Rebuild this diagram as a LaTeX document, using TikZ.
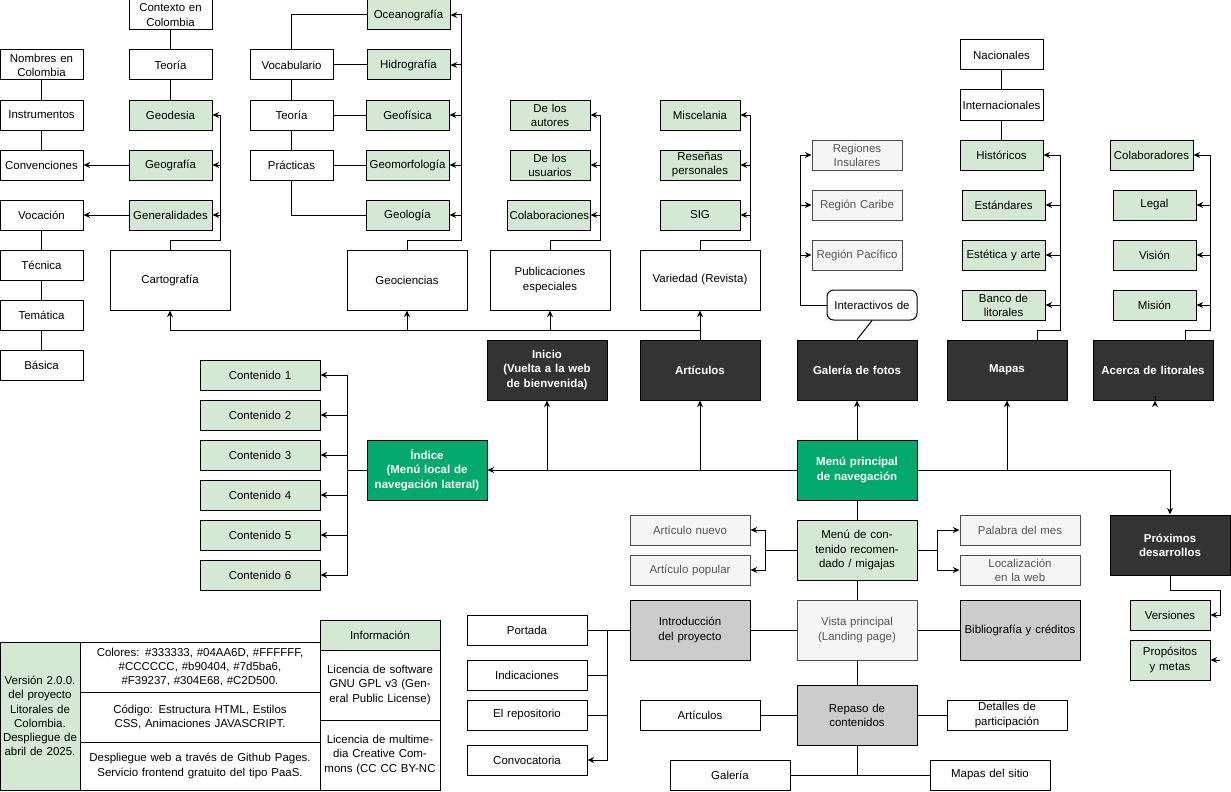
\documentclass[tikz,border=0pt]{standalone}
\usepackage{fontspec}
\setmainfont{Liberation Sans}
\usetikzlibrary{arrows.meta,calc,positioning}
\definecolor{darkbox}{HTML}{333333}
\definecolor{mainGreen}{HTML}{04AA6D}
\definecolor{softGreen}{HTML}{D5E8D4}
\definecolor{paleGray}{HTML}{F5F5F5}
\definecolor{midGray}{HTML}{CCCCCC}
\definecolor{textGray}{HTML}{555555}

% box: [style]{name}{left}{top}{width}{height}{text}, all in pixels
\newcommand\bx[7][]{%
  \pgfmathsetmacro\bw{#5*0.75}\pgfmathsetmacro\bh{#6*0.75}\pgfmathsetmacro\tw{(#5-5)*0.75}%
  \node[box,minimum width=\bw pt,minimum height=\bh pt,text width=\tw pt,#1] (#2) at ({#3+#5/2},{#4+#6/2}) {#7};}

\begin{document}
\begin{tikzpicture}[
  x=0.75pt, y=-0.75pt,
  >={Stealth[length=5pt,width=4.5pt]},
  line width=0.75pt,
  box/.style={draw,rectangle,fill=white,align=center,inner sep=1pt,font=\fontsize{8.6}{10.6}\selectfont},
  sub/.style={fill=softGreen},
  dark/.style={fill=darkbox,text=white,font=\fontsize{8.6}{10.6}\selectfont\bfseries},
  main/.style={fill=mainGreen,text=white,font=\fontsize{8.6}{10.6}\selectfont\bfseries},
  pale/.style={fill=paleGray,draw=black!70,text=textGray},
  mid/.style={fill=midGray}
]
\useasboundingbox (0,0) rectangle (1231,792);

% --- Cartografía branch
\bx{nombres}{0}{50}{83}{30}{Nombres en Colombia}
\bx{instr}{0}{100}{83}{30}{Instrumentos}
\bx{conv}{0}{150}{83}{30}{Convenciones}
\bx{vocacion}{0}{200}{83}{30}{Vocación}
\bx{tecnica}{0}{250}{83}{30}{Técnica}
\bx{tematica}{0}{300}{83}{30}{Temática}
\bx{basica}{0}{350}{83}{30}{Básica}
\bx{contexto}{129}{0}{83}{30}{Contexto en Colombia}
\bx{teoriaA}{129}{50}{83}{30}{Teoría}
\bx[sub]{geodesia}{129}{100}{83}{30}{Geodesia}
\bx[sub]{geografia}{129}{150}{83}{30}{Geografía}
\bx[sub]{general}{129}{200}{83}{30}{Generalidades}
\bx{carto}{110}{250}{120}{60}{Cartografía}

\draw (nombres) -- (instr) -- (conv);
\draw (vocacion) -- (tecnica) -- (tematica) -- (basica);
\draw (contexto) -- (teoriaA) -- (geodesia);
\draw[->] (geografia) -- (conv);
\draw[->] (general) -- (vocacion);
\coordinate (cartoBus) at (220,240);
\draw[->] (carto.north) |- (cartoBus) |- (geodesia.east);
\draw[->] (cartoBus |- geografia.east) -- (geografia.east);
\draw[->] (cartoBus |- general.east) -- (general.east);

% --- Geociencias branch
\bx{vocab}{250}{50}{83}{30}{Vocabulario}
\bx{teoriaB}{250}{100}{83}{30}{Teoría}
\bx{practicas}{250}{150}{83}{30}{Prácticas}
\bx[sub]{oceano}{367}{0}{83}{30}{Oceanografía}
\bx[sub]{hidro}{367}{50}{83}{30}{Hidrografía}
\bx[sub]{geofisica}{366}{100}{83}{30}{Geofísica}
\bx[sub]{geomorf}{366}{150}{83}{30}{Geomorfología}
\bx[sub]{geologia}{366}{200}{83}{30}{Geología}
\bx{geoc}{347}{250}{120}{60}{Geociencias}

\draw (oceano.west) -| (vocab.north);
\draw (vocab) -- (hidro);
\draw (vocab) -- (teoriaB) -- (practicas);
\draw (teoriaB) -- (geofisica);
\draw (practicas) -- (geomorf);
\draw (practicas.south) |- (geologia.west);
\coordinate (geocBus) at (461,240);
\draw[->] (geoc.north) |- (geocBus) |- (oceano.east);
\foreach \n in {hidro,geofisica,geomorf,geologia}
  \draw[->] (geocBus |- \n.east) -- (\n.east);

% --- Publicaciones and Variedad
\bx{public}{490}{250}{120}{60}{Publicaciones especiales}
\bx[sub]{autores}{510}{100}{80}{30}{De los autores}
\bx[sub]{usuarios}{510}{150}{80}{30}{De los usuarios}
\bx[sub]{colab}{507}{200}{83}{30}{Colaboraciones}
\coordinate (pubBus) at (600,240);
\draw[->] (public.north) |- (pubBus) |- (autores.east);
\draw[->] (pubBus |- usuarios.east) -- (usuarios.east);
\draw[->] (pubBus |- colab.east) -- (colab.east);

\bx{variedad}{640}{250}{120}{60}{Variedad (Revista)}
\bx[sub]{misc}{660}{100}{80}{30}{Miscelania}
\bx[sub]{resenas}{660}{150}{80}{30}{Reseñas personales}
\bx[sub]{sig}{660}{200}{80}{30}{SIG}
\coordinate (varBus) at (750,240);
\draw[->] (variedad.north) |- (varBus) |- (misc.east);
\draw[->] (varBus |- resenas.east) -- (resenas.east);
\draw[->] (varBus |- sig.east) -- (sig.east);

% --- Galería branch
\bx[pale]{insulares}{812}{140}{90}{30}{Regiones Insulares}
\bx[pale]{caribe}{812}{190}{90}{30}{Región Caribe}
\bx[pale]{pacifico}{812}{240}{90}{30}{Región Pacífico}
\bx[rounded corners=5pt]{interact}{827}{290}{90}{30}{Interactivos de}
\coordinate (galBus) at (800,305);
\draw[->] (interact.west) -- (galBus) |- (insulares.west);
\draw[->] (galBus |- caribe.west) -- (caribe.west);
\draw[->] (galBus |- pacifico.west) -- (pacifico.west);

% --- Mapas branch
\bx{nacionales}{960}{40}{83}{30}{Nacionales}
\bx{internac}{960}{90}{83}{30}{Internacionales}
\bx[sub]{historicos}{960}{140}{83}{30}{Históricos}
\bx[sub]{estandares}{962}{190}{83}{30}{Estándares}
\bx[sub]{estetica}{962}{240}{83}{30}{Estética y arte}
\bx[sub]{banco}{962}{290}{83}{30}{Banco de litorales}
\draw (nacionales) -- (internac) -- (historicos);

% --- Acerca branch
\bx[sub]{colabs}{1110}{140}{83}{30}{Colaboradores}
\bx[sub]{legal}{1113}{190}{83}{30}{Legal}
\bx[sub]{vision}{1113}{240}{83}{30}{Visión}
\bx[sub]{mision}{1113}{290}{83}{30}{Misión}

% --- Main menu bar
\bx[dark]{inicio}{487}{340}{120}{60}{Inicio\\(Vuelta a la web de bienvenida)}
\bx[dark]{articulos}{640}{340}{120}{60}{Artículos}
\bx[dark]{galeria}{797}{340}{120}{60}{Galería de fotos}
\bx[dark]{mapas}{947}{340}{120}{60}{Mapas}
\bx[dark]{acerca}{1093}{340}{120}{60}{Acerca de litorales}

\coordinate (topBus) at (700,330);
\draw[->] (articulos.north) -- (topBus) -| (carto.south);
\draw[->] (topBus -| geoc.south) -- (geoc.south);
\draw[->] (topBus -| public.south) -- (public.south);
\draw[->] (topBus) -- (variedad.south);
\draw (galeria.north) -- (interact.south);
\coordinate (mapBus) at (1060,330);
\draw[->] ($(mapas.north)+(30,0)$) |- (mapBus) |- (historicos.east);
\foreach \n in {estandares,estetica,banco}
  \draw[->] (mapBus |- \n.east) -- (\n.east);
\coordinate (acBus) at (1210,330);
\draw[->] ($(acerca.north)+(32,0)$) |- (acBus) |- (colabs.east);
\foreach \n in {legal,vision,mision}
  \draw[->] (acBus |- \n.east) -- (\n.east);

% --- Central menus
\bx[main]{menu}{797}{440}{120}{60}{Menú principal de navegación}
\bx[main]{indice}{367}{440}{120}{60}{Índice\\(Menú local de navegación lateral)}
\bx[dark]{proximos}{1110}{515}{120}{60}{Próximos desarrollos}
\draw[->] (menu.west) -- (indice.east);
\draw[->] (inicio.south |- menu.west) -- (inicio.south);
\draw[->] (articulos.south |- menu.west) -- (articulos.south);
\draw[->] (menu.north) -- (galeria.south);
\draw[->] (menu.east) -| (proximos.north);
\draw[->] (mapas.south |- menu.east) -- (mapas.south);
\draw[->] ($(acerca.south)+(2,0)$ |- menu.east) -- ($(acerca.south)+(2,0)$);

\foreach \i in {1,...,6}
  \bx[sub]{cont\i}{200}{320+40*\i}{120}{30}{Contenido \i}
\coordinate (idxBus) at (347,470);
\draw (indice.west) -- (idxBus);
\draw[->] (idxBus) |- (cont1.east);
\draw[->] (idxBus) |- (cont6.east);
\foreach \i in {2,...,5}
  \draw[->] (idxBus |- cont\i.east) -- (cont\i.east);

\bx[sub]{menuCont}{797}{520}{120}{60}{Menú de contenido recomendado / migajas}
\bx[pale]{artNuevo}{630}{515}{120}{30}{Artículo nuevo}
\bx[pale]{artPopular}{630}{555}{120}{30}{Artículo popular}
\bx[pale]{palabra}{960}{515}{120}{30}{Palabra del mes}
\bx[pale]{localiz}{960}{555}{120}{30}{Localización en la web}
\draw (menu) -- (menuCont);
\coordinate (mcL) at (765,550);
\coordinate (mcR) at (937,550);
\draw (menuCont.west) -- (mcL);
\draw[->] (mcL) |- (artNuevo.east);
\draw[->] (mcL) |- (artPopular.east);
\draw (menuCont.east) -- (mcR);
\draw[->] (mcR) |- (palabra.west);
\draw[->] (mcR) |- (localiz.west);

% --- Landing page
\bx[pale]{vista}{797}{600}{120}{60}{Vista principal (Landing page)}
\bx[mid]{intro}{630}{600}{120}{60}{Introducción del proyecto}
\bx[mid]{biblio}{960}{600}{120}{60}{Bibliografía y créditos}
\draw (menuCont) -- (vista);
\draw (intro) -- (vista) -- (biblio);

\bx{portada}{467}{615}{120}{30}{Portada}
\bx{indic}{467}{660}{120}{30}{Indicaciones}
\bx{repo}{467}{700}{120}{30}{El repositorio}
\bx{convoc}{467}{745}{120}{30}{Convocatoria}
\coordinate (introBus) at (607,630);
\draw (intro.west) -- (portada.east);
\draw[->] (introBus) |- (convoc.east);
\draw (indic.east) -- (introBus |- indic.east);
\draw (repo.east) -- (introBus |- repo.east);

\bx[mid]{repaso}{797}{685}{120}{60}{Repaso de contenidos}
\bx{artB}{640}{700}{120}{30}{Artículos}
\bx{detalles}{947}{700}{120}{30}{Detalles de participación}
\bx{galB}{670}{760}{120}{30}{Galería}
\bx{mapasSitio}{930}{760}{120}{30}{Mapas del sitio}
\draw (vista) -- (repaso);
\draw (artB) -- (repaso) -- (detalles);
\draw (galB) -- (mapasSitio);
\draw (repaso.south) -- (repaso.south |- galB.east);

% --- Próximos desarrollos
\bx[sub]{versiones}{1130}{600}{80}{30}{Versiones}
\bx[sub]{propositos}{1130}{640}{80}{40}{Propósitos y metas}
\coordinate (proxBus) at (1220,590);
\draw[->] ($(proximos.south)+(0,0)$) |- (proxBus) |- (versiones.east);
\draw[->] (proxBus |- propositos.east) -- (propositos.east);

% --- Information table
\bx[sub]{version}{0}{642}{80}{148}{Versión 2.0.0. del proyecto Litorales de Colombia. Despliegue de abril de 2025.}
\bx{colores}{80}{642}{240}{50}{Colores: \#333333, \#04AA6D, \#FFFFFF, \#CCCCCC, \#b90404, \#7d5ba6, \#F39237, \#304E68, \#C2D500.}
\bx{codigo}{80}{692}{240}{50}{Código: Estructura HTML, Estilos CSS, Animaciones JAVASCRIPT.}
\bx{despliegue}{80}{742}{240}{48}{Despliegue web a través de Github Pages. Servicio frontend gratuito del tipo PaaS.}
\bx[sub]{info}{320}{620}{120}{30}{Información}
\bx{licSoft}{320}{650}{120}{70}{Licencia de software GNU GPL v3 (General Public License)}
\bx{licMulti}{320}{720}{120}{70}{Licencia de multimedia Creative Commons (CC CC BY-NC}
\end{tikzpicture}
\end{document}
